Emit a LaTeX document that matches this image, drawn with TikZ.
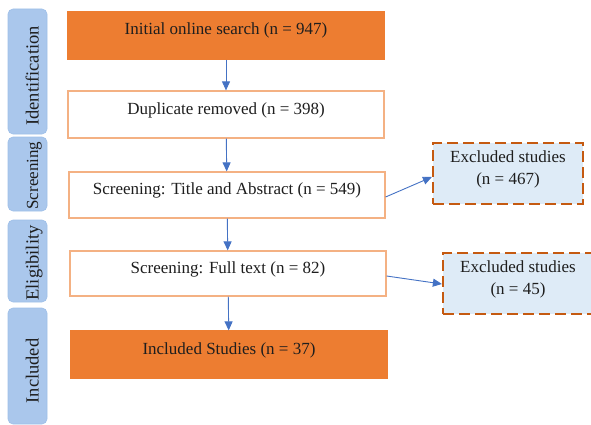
\documentclass[tikz,border=0pt]{standalone}
\usepackage{fontspec}
\setmainfont{Liberation Serif}
\usetikzlibrary{arrows.meta,calc}
\definecolor{orfill}{HTML}{ED7D31}
\definecolor{orline}{HTML}{F4B183}
\definecolor{exline}{HTML}{C55A11}
\definecolor{exfill}{HTML}{DEEBF7}
\definecolor{arrblue}{HTML}{4472C4}
\definecolor{sidefill}{HTML}{AAC7EC}
\definecolor{sideline}{HTML}{9EBFE8}
\definecolor{txt}{HTML}{1E1E1E}
\begin{document}
\begin{tikzpicture}[x=1pt,y=-1pt,
  every node/.style={font=\fontsize{17}{22}\selectfont, text=txt},
  mainbox/.style={rectangle, draw=orline, line width=1.2pt, fill=white,
    minimum width=316pt, minimum height=46pt, inner sep=0pt,
    text height=12pt, text depth=13pt},
  orbox/.style={mainbox, fill=orfill, draw=orfill},
  exbox/.style={rectangle, draw=exline, fill=exfill, line width=2.2pt,
    dash pattern=on 11pt off 5pt, minimum width=150pt, minimum height=61pt,
    align=center, inner sep=0pt, text depth=11pt},
  sidebox/.style={rectangle, rounded corners=5pt, draw=sideline, line width=0.6pt,
    fill=sidefill, minimum width=39pt, inner sep=0pt},
  sidetext/.style={rotate=90, anchor=base, text=txt,
    font=\fontsize{18.5}{22}\selectfont},
  flow/.style={draw=arrblue, line width=0.9pt, -{Triangle[length=9pt,width=8pt]}, arrblue}
]
\useasboundingbox (0,0) rectangle (591,425);

% side labels
\node[sidebox, minimum height=125pt] (sid) at (27.5,71.5) {};
\node[sidetext] (tid) at (38.5,76) {Identification};
\node[sidebox, minimum height=74pt] (ssc) at (27.5,174) {};
\node[sidetext, font=\fontsize{17}{22}\selectfont] (tsc) at (38,175.5) {Screening};
\node[sidebox, minimum height=82pt] (sel) at (27.5,261) {};
\node[sidetext] (tel) at (38.5,263) {Eligibility};
\node[sidebox, minimum height=116pt] (sin) at (27.5,366) {};
\node[sidetext] (tin) at (38.5,371) {Included};

% main flow
\node[orbox, minimum height=47pt] (init) at (226,35.5) {Initial online search (n = 947)};
\node[mainbox, minimum height=47pt] (dup) at (226,114.5) {Duplicate removed (n = 398)};
\node[mainbox] (scr) at (227,195) {Screening: Title and Abstract (n = 549)};
\node[mainbox, minimum height=45pt] (full) at (228,273.5) {Screening: Full text (n = 82)};
\node[orbox, minimum height=47pt] (inc) at (229,354.5) {Included Studies (n = 37)};

% excluded
\node[exbox] (ex1) at (508,173.5) {Excluded studies\\(n = 467)};
\node[exbox] (ex2) at (518,283.5) {Excluded studies\\(n = 45)};

% connectors
\draw[flow] (init) -- (dup);
\draw[flow] (dup) -- (scr);
\draw[flow] (scr) -- (full);
\draw[flow] (full) -- (inc);
\draw[flow] ($(scr.east)+(0,2)$) -- ($(ex1.west)+(0,3.5)$);
\draw[flow] ($(full.east)+(0,2.5)$) -- ($(ex2.west)+(0,0.5)$);
\end{tikzpicture}
\end{document}
